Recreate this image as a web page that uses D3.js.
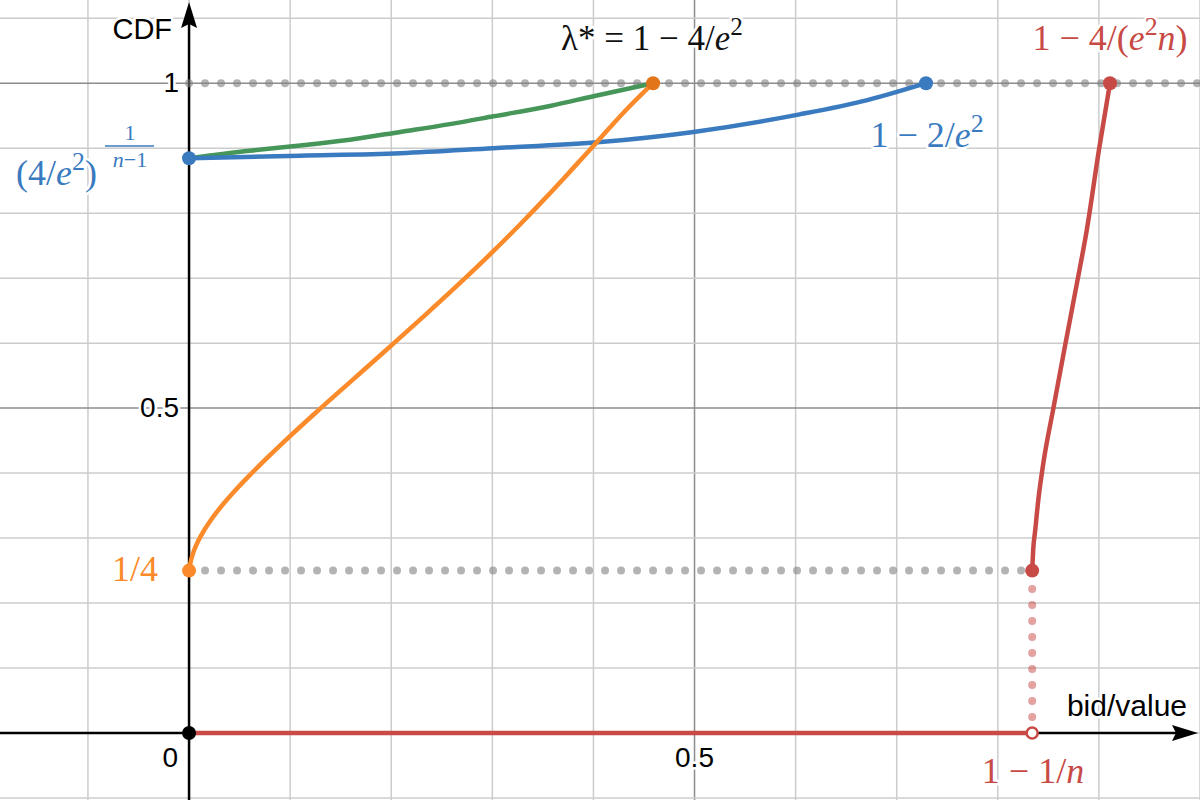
<!DOCTYPE html>
<html>
<head>
<meta charset="utf-8">
<script src="https://cdn.jsdelivr.net/npm/d3@7"></script>
<style>
  body { margin: 0; background: #fff; }
  #container { width: 1200px; height: 800px; }
  .lbl { paint-order: stroke; stroke: #fff; stroke-width: 5px; stroke-linejoin: round; }
</style>
</head>
<body>
<div id="container"></div>
<script>
var width = 1200,
    height = 800;

// curves (bid/value, CDF)
var orangeCurve = [[0, 0.25], [0.0020, 0.2662], [0.0049, 0.2809], [0.0089, 0.2951], [0.0148, 0.3117],
    [0.0227, 0.3302], [0.0326, 0.3502], [0.0445, 0.3714], [0.0584, 0.3942], [0.0762, 0.4218],
    [0.0999, 0.4569], [0.1276, 0.4962], [0.1632, 0.5454], [0.1998, 0.5960], [0.2354, 0.6458],
    [0.2710, 0.6968], [0.3007, 0.7411], [0.3274, 0.7826], [0.3541, 0.8258], [0.3788, 0.8674],
    [0.4036, 0.9097], [0.4313, 0.9571], [0.4590, 1.0]];
var blueCurve = [[0, 0.8846], [0.110, 0.8885], [0.209, 0.8923], [0.301, 0.900], [0.404, 0.909],
    [0.499, 0.925], [0.604, 0.952], [0.671, 0.974], [0.729, 1.0]];
var greenCurve = [[0, 0.8846], [0.060, 0.896], [0.110, 0.904], [0.159, 0.913], [0.209, 0.925], [0.258, 0.937],
    [0.301, 0.949], [0.357, 0.965], [0.400, 0.980], [0.459, 1.0]];
var redCurve = [[0.834, 0.25], [0.835, 0.282], [0.837, 0.312], [0.840, 0.358], [0.845, 0.415], [0.855, 0.500],
    [0.867, 0.600], [0.879, 0.698], [0.888, 0.774], [0.900, 0.897], [0.911, 1.0]];
var redFloor = [[0, 0], [0.834, 0]];

var xTicks = [0, 0.5],
    yTicks = [0.5, 1];

var xScale = d3.scaleLinear().domain([-0.187, 1]).range([0, width]);
var yScale = d3.scaleLinear().domain([-0.103, 1.128]).range([height, 0]);

var svg = d3.select("#container")
    .append("svg")
    .attr("width", width)
    .attr("height", height);

var gridG = svg.append("g"),
    axisG = svg.append("g"),
    curveG = svg.append("g"),
    pointG = svg.append("g"),
    labelG = svg.append("g");

// grid
var gx = d3.range(-1, 11).map(function (i) { return i / 10; });
var gy = d3.range(-1, 12).map(function (i) { return i / 10; });

gridG.selectAll(".vgrid")
    .data(gx)
    .enter().append("line")
    .attr("x1", function (d) { return xScale(d); })
    .attr("x2", function (d) { return xScale(d); })
    .attr("y1", 0)
    .attr("y2", height)
    .attr("stroke", function (d) { return Math.abs(d - 0.5) < 1e-6 ? "#8c8c8c" : "#cccccc"; })
    .attr("stroke-width", 1.5);

gridG.selectAll(".hgrid")
    .data(gy)
    .enter().append("line")
    .attr("y1", function (d) { return yScale(d); })
    .attr("y2", function (d) { return yScale(d); })
    .attr("x1", 0)
    .attr("x2", width)
    .attr("stroke", function (d) { return (Math.abs(d - 0.5) < 1e-6 || Math.abs(d - 1) < 1e-6) ? "#8c8c8c" : "#cccccc"; })
    .attr("stroke-width", 1.5);

// axes with arrows
var x0 = xScale(0), y0 = yScale(0);
axisG.append("line")
    .attr("x1", 0).attr("x2", width - 20)
    .attr("y1", y0).attr("y2", y0)
    .attr("stroke", "#000").attr("stroke-width", 2.5);
axisG.append("line")
    .attr("x1", x0).attr("x2", x0)
    .attr("y1", height).attr("y2", 20)
    .attr("stroke", "#000").attr("stroke-width", 2.5);
axisG.append("path")
    .attr("d", "M" + (width - 2) + "," + y0 + "L" + (width - 28) + "," + (y0 - 8) + "L" + (width - 24) + "," + y0 + "L" + (width - 28) + "," + (y0 + 8) + "Z")
    .attr("fill", "#000");
axisG.append("path")
    .attr("d", "M" + x0 + ",2L" + (x0 - 8) + ",28L" + x0 + ",24L" + (x0 + 8) + ",28Z")
    .attr("fill", "#000");

axisG.selectAll(".xt")
    .data(xTicks)
    .enter().append("text")
    .attr("class", "lbl")
    .attr("x", function (d) { return d === 0 ? xScale(d) - 11 : xScale(d); })
    .attr("y", y0 + 34)
    .attr("text-anchor", function (d) { return d === 0 ? "end" : "middle"; })
    .attr("font-family", "Liberation Sans, Arial, sans-serif")
    .attr("font-size", 28)
    .text(function (d) { return d; });

axisG.selectAll(".yt")
    .data(yTicks)
    .enter().append("text")
    .attr("class", "lbl")
    .attr("x", x0 - 10)
    .attr("y", function (d) { return yScale(d) + 9; })
    .attr("text-anchor", "end")
    .attr("font-family", "Liberation Sans, Arial, sans-serif")
    .attr("font-size", 28)
    .text(function (d) { return d; });

axisG.append("text")
    .attr("class", "lbl")
    .attr("x", x0 - 17).attr("y", 39)
    .attr("text-anchor", "end")
    .attr("font-family", "Liberation Sans, Arial, sans-serif")
    .attr("font-size", 29)
    .text("CDF");

axisG.append("text")
    .attr("class", "lbl")
    .attr("x", 1187).attr("y", 716)
    .attr("text-anchor", "end")
    .attr("font-family", "Liberation Sans, Arial, sans-serif")
    .attr("font-size", 30)
    .text("bid/value");

// dotted guides
function dotted(g, pts, color, op) {
    g.append("line")
        .attr("x1", xScale(pts[0][0])).attr("y1", yScale(pts[0][1]))
        .attr("x2", xScale(pts[1][0])).attr("y2", yScale(pts[1][1]))
        .attr("stroke", color)
        .attr("stroke-opacity", op)
        .attr("stroke-width", 8)
        .attr("stroke-linecap", "round")
        .attr("stroke-dasharray", "0 16");
}
dotted(curveG, [[0, 1], [1.0, 1]], "#808080", 0.6);
dotted(curveG, [[0, 0.25], [0.834, 0.25]], "#808080", 0.6);
dotted(curveG, [[0.834, 0], [0.834, 0.25]], "#c74440", 0.5);

var line = d3.line()
    .x(function (d) { return xScale(d[0]); })
    .y(function (d) { return yScale(d[1]); })
    .curve(d3.curveMonotoneX);

var curves = [
    { data: redFloor, color: "#c84a46" },
    { data: greenCurve, color: "#46965a" },
    { data: blueCurve, color: "#3a7bbf" },
    { data: orangeCurve, color: "#fa8a2a" },
    { data: redCurve, color: "#c84a46" }
];

curveG.selectAll(".curve")
    .data(curves)
    .enter().append("path")
    .attr("d", function (d) { return line(d.data); })
    .attr("fill", "none")
    .attr("stroke", function (d) { return d.color; })
    .attr("stroke-width", 4.5)
    .attr("stroke-linecap", "round");

// points
var points = [
    { p: [0, 0], color: "#000", open: false },
    { p: [0, 0.8846], color: "#3a7bbf", open: false },
    { p: [0.729, 1], color: "#3a7bbf", open: false },
    { p: [0, 0.25], color: "#fa8a2a", open: false },
    { p: [0.459, 1], color: "#e2741a", open: false },
    { p: [0.834, 0.25], color: "#c84a46", open: false },
    { p: [0.911, 1], color: "#c84a46", open: false },
    { p: [0.834, 0], color: "#c84a46", open: true }
];

pointG.selectAll("circle")
    .data(points)
    .enter().append("circle")
    .attr("cx", function (d) { return xScale(d.p[0]); })
    .attr("cy", function (d) { return yScale(d.p[1]); })
    .attr("r", function (d) { return d.open ? 5.5 : 7; })
    .attr("fill", function (d) { return d.open ? "#fff" : d.color; })
    .attr("stroke", function (d) { return d.open ? d.color : "none"; })
    .attr("stroke-width", 2.5);

// math labels
var serif = "Liberation Serif, Times New Roman, serif";

function mathLabel(x, y, anchor, color, parts, size) {
    size = size || 36;
    var t = labelG.append("text")
        .attr("class", "lbl")
        .attr("x", x).attr("y", y)
        .attr("text-anchor", anchor)
        .attr("font-family", serif)
        .attr("font-size", size)
        .attr("fill", color);
    parts.forEach(function (p) {
        var s = t.append("tspan").text(p.t);
        if (p.i) s.attr("font-style", "italic");
        if (p.sup) s.attr("dy", -15).attr("font-size", size * 0.72);
        if (p.down) s.attr("dy", 15);
    });
    return t;
}

mathLabel(652, 50, "middle", "#111", [{ t: "λ* = 1 − 4/" }, { t: "e", i: true }, { t: "2", sup: true }], 35);
mathLabel(1110, 50, "middle", "#c84a46", [{ t: "1 − 4/(" }, { t: "e", i: true }, { t: "2", sup: true }, { t: "n", i: true, down: true }, { t: ")" }]);
mathLabel(927, 147, "middle", "#3a7bbf", [{ t: "1 − 2/" }, { t: "e", i: true }, { t: "2", sup: true }]);
mathLabel(158, 581, "end", "#fa8a2a", [{ t: "1/4" }]);
mathLabel(1033, 783, "middle", "#c84a46", [{ t: "1 − 1/" }, { t: "n", i: true }]);

// (4/e^2)^(1/(n-1))
mathLabel(16, 185, "start", "#3a7bbf", [{ t: "(4/" }, { t: "e", i: true }, { t: "2", sup: true }, { t: ")", down: true }]);
labelG.append("text")
    .attr("x", 130).attr("y", 140)
    .attr("text-anchor", "middle")
    .attr("font-family", serif).attr("font-size", 22)
    .attr("fill", "#3a7bbf")
    .text("1");
labelG.append("line")
    .attr("x1", 105).attr("x2", 154)
    .attr("y1", 146).attr("y2", 146)
    .attr("stroke", "#3a7bbf").attr("stroke-width", 1.4);
var den = labelG.append("text")
    .attr("x", 130).attr("y", 167)
    .attr("text-anchor", "middle")
    .attr("font-family", serif).attr("font-size", 22)
    .attr("fill", "#3a7bbf");
den.append("tspan").attr("font-style", "italic").text("n");
den.append("tspan").text("−1");
</script>
</body>
</html>
